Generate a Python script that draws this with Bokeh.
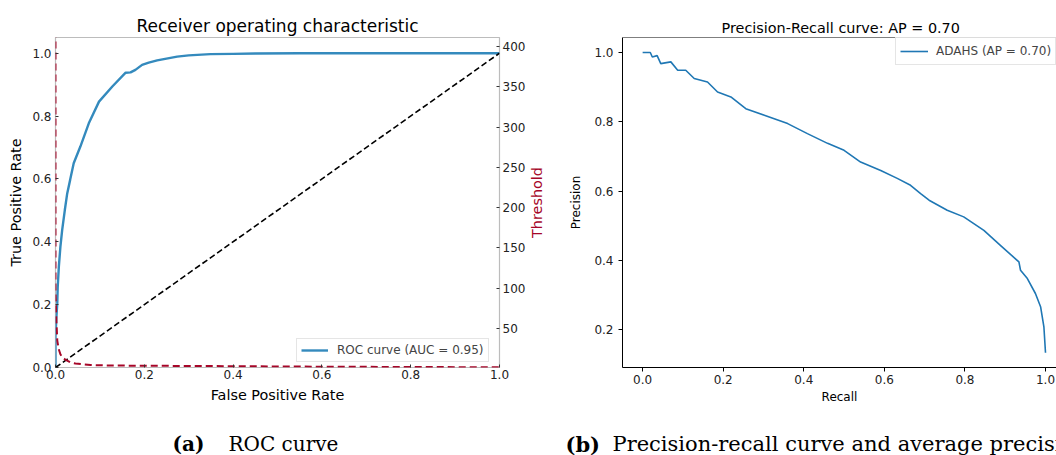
import math
from bokeh.plotting import figure
from bokeh.models import (Range1d, LinearAxis, FixedTicker, PrintfTickFormatter,
                          Legend, LegendItem, Span)
from bokeh.core.properties import value
from bokeh.layouts import row, column
from bokeh.embed import file_html
from bokeh.resources import INLINE

# ---------------- data ----------------
roc_fpr = [0.0, 0.0, 0.002, 0.004, 0.005, 0.0075, 0.011, 0.015, 0.021, 0.0264,
           0.033, 0.041, 0.056, 0.075, 0.098, 0.128, 0.158, 0.169, 0.180, 0.195,
           0.21, 0.229, 0.25, 0.274, 0.30, 0.349, 0.40, 0.45, 0.55, 1.0]
roc_tpr = [0.0, 0.10, 0.16, 0.204, 0.257, 0.320, 0.384, 0.437, 0.501, 0.554,
           0.597, 0.650, 0.703, 0.777, 0.846, 0.894, 0.938, 0.939, 0.947, 0.963,
           0.970, 0.977, 0.983, 0.989, 0.993, 0.997, 0.998, 0.999, 1.0, 1.0]
chance_x = [0.0, 1.0]
chance_y = [0.0, 1.0]
thr_fpr = [0.0, 0.0, 0.002, 0.004, 0.007, 0.011, 0.016, 0.023, 0.034, 0.045,
           0.065, 0.079, 0.12, 0.165, 0.2, 0.4, 0.6, 0.8, 1.0]
thr_val = [420.0, 95.0, 60.0, 35.0, 25.0, 18.0, 14.0, 11.0, 7.8, 6.6,
           5.4, 4.6, 4.1, 3.9, 3.8, 3.2, 2.6, 2.2, 1.9]
pr_recall = [0.0, 0.019, 0.024, 0.036, 0.045, 0.070, 0.087, 0.107, 0.128, 0.161,
             0.186, 0.219, 0.256, 0.302, 0.360, 0.409, 0.459, 0.500, 0.541, 0.591,
             0.632, 0.665, 0.690, 0.711, 0.756, 0.797, 0.847, 0.888, 0.934, 0.938,
             0.955, 0.975, 0.988, 0.996, 1.0]
pr_precision = [1.0, 1.0, 0.987, 0.991, 0.968, 0.973, 0.949, 0.949, 0.925, 0.915,
                0.886, 0.872, 0.838, 0.819, 0.795, 0.766, 0.738, 0.718, 0.684, 0.660,
                0.637, 0.617, 0.593, 0.574, 0.545, 0.526, 0.487, 0.444, 0.396, 0.372,
                0.348, 0.305, 0.266, 0.209, 0.134]
unit_ticks = [0.0, 0.2, 0.4, 0.6, 0.8, 1.0]
thr_ticks = [50, 100, 150, 200, 250, 300, 350, 400]
prec_ticks = [0.2, 0.4, 0.6, 0.8, 1.0]
thr_label = ["Threshold"]

caption_a = ["(a)", "ROC curve"]
caption_b = ["(b)", "Precision-recall curve and average precision"]

FONT = "DejaVu Sans"
SERIF = "DejaVu Serif"
BLUE_BMH = "#348ABD"
RED_BMH = "#A60628"
BLUE_MPL = "#1f77b4"


def style_axis(ax, size, label_size, tick_in, tick_out, color="#222222"):
    ax.major_label_text_font = FONT
    ax.major_label_text_font_size = size
    ax.major_label_text_color = color
    ax.axis_label_text_font = FONT
    ax.axis_label_text_font_size = label_size
    ax.axis_label_text_font_style = "normal"
    ax.axis_label_text_color = "black"
    ax.major_tick_in = tick_in
    ax.major_tick_out = tick_out
    ax.minor_tick_in = 0
    ax.minor_tick_out = 0
    ax.major_tick_line_color = "#333333"


def blank(p):
    p.axis.visible = False
    p.xgrid.visible = False
    p.ygrid.visible = False
    p.outline_line_color = None
    p.background_fill_color = "white"
    p.border_fill_color = "white"
    p.title.text_font_size = "0px"
    p.title.standoff = 0


# ---------------- left panel: ROC ----------------
p1 = figure(width=528, height=425, output_backend="svg",
            toolbar_location=None, x_range=Range1d(0, 1), y_range=Range1d(0, 1.05),
            min_border_left=55, min_border_right=29, min_border_top=37,
            min_border_bottom=58)
p1.xgrid.visible = False
p1.ygrid.visible = False
p1.outline_line_color = "#bcbcbc"
p1.outline_line_width = 1.2
p1.background_fill_color = "white"
p1.border_fill_color = "white"

p1.title.text = "Receiver operating characteristic"
p1.title.align = "center"
p1.title.text_font = FONT
p1.title.text_font_size = "17px"
p1.title.text_font_style = "normal"
p1.title.text_color = "black"
p1.title.standoff = 4

for ax in (p1.xaxis[0], p1.yaxis[0]):
    style_axis(ax, "12px", "14.4px", 3, 0)
    ax.axis_line_color = None
    ax.ticker = FixedTicker(ticks=unit_ticks)
    ax.formatter = PrintfTickFormatter(format="%.1f")
p1.xaxis.axis_label = "False Positive Rate"
p1.yaxis.axis_label = "True Positive Rate"
p1.xaxis.major_label_standoff = 2
p1.xaxis.axis_label_standoff = 5
p1.yaxis.major_label_standoff = 4
p1.yaxis.axis_label_standoff = 5

p1.extra_y_ranges = {"thr": Range1d(1.6, 411.2)}
ax_r = LinearAxis(y_range_name="thr", ticker=FixedTicker(ticks=thr_ticks))
style_axis(ax_r, "12px", "14.4px", 3, 0)
ax_r.axis_line_color = None
ax_r.major_label_standoff = 3
p1.add_layout(ax_r, "right")

r_roc = p1.line(roc_fpr, roc_tpr, line_color=BLUE_BMH, line_width=2.4)
p1.line(chance_x, chance_y, line_color="black", line_dash="6 3", line_width=1.6)
p1.line(thr_fpr, thr_val, y_range_name="thr", line_color=RED_BMH,
        line_dash="7 4", line_width=2)

leg1 = Legend(items=[LegendItem(label="ROC curve (AUC = 0.95)", renderers=[r_roc])],
              location=(241, 5), padding=4, spacing=0, margin=0,
              glyph_width=27, glyph_height=14, label_height=14, label_standoff=9,
              label_text_font=FONT, label_text_font_size="12px",
              border_line_color="#cccccc", border_line_width=1,
              background_fill_alpha=0.85)
p1.add_layout(leg1)

# ---------------- "Threshold" label strip (twin-axis label) ----------------
pthr = figure(width=32, height=425, output_backend="svg", toolbar_location=None,
              x_range=Range1d(0, 1), y_range=Range1d(0, 1.05),
              min_border_left=0, min_border_right=0, min_border_top=37,
              min_border_bottom=58)
blank(pthr)
pthr.text(x=[8.5 / 32], y=[0.525], text=thr_label, angle=math.pi / 2,
          text_font=value(FONT), text_font_size="14.4px", text_align="center",
          text_baseline="middle", text_color=RED_BMH)

# ---------------- right panel: PR ----------------
p2 = figure(width=496, height=425, output_backend="svg",
            toolbar_location=None, x_range=Range1d(-0.05, 1.0273),
            y_range=Range1d(0.0916, 1.0433),
            min_border_left=62, min_border_right=0, min_border_top=37,
            min_border_bottom=58)
p2.xgrid.visible = False
p2.ygrid.visible = False
p2.outline_line_color = None
p2.background_fill_color = "white"
p2.border_fill_color = "white"

p2.title.text = "Precision-Recall curve: AP = 0.70"
p2.title.align = "left"
p2.title.offset = 99
p2.title.text_font = FONT
p2.title.text_font_size = "14.4px"
p2.title.text_font_style = "normal"
p2.title.text_color = "black"
p2.title.standoff = 4

for ax in (p2.xaxis[0], p2.yaxis[0]):
    style_axis(ax, "12px", "12px", 0, 4, color="#222222")
    ax.axis_line_color = "black"
    ax.major_tick_line_color = "black"
    ax.formatter = PrintfTickFormatter(format="%.1f")
p2.xaxis.ticker = FixedTicker(ticks=unit_ticks)
p2.yaxis.ticker = FixedTicker(ticks=prec_ticks)
p2.xaxis.axis_label = "Recall"
p2.yaxis.axis_label = "Precision"
p2.xaxis.major_label_standoff = 3
p2.xaxis.axis_label_standoff = 3
p2.yaxis.major_label_standoff = 5
p2.yaxis.axis_label_standoff = 8
p2.add_layout(Span(location=1.0433, dimension="width", line_color="black",
                   line_width=1))

r_pr = p2.line(pr_recall, pr_precision, line_color=BLUE_MPL, line_width=1.6)
leg2 = Legend(items=[LegendItem(label="ADAHS (AP = 0.70)", renderers=[r_pr])],
              location=(273, 302), padding=4, spacing=0, margin=0,
              glyph_width=28, glyph_height=18, label_height=18, label_standoff=8,
              label_text_font=FONT, label_text_font_size="12px",
              border_line_color="#cccccc", border_line_width=1,
              background_fill_alpha=0.85)
p2.add_layout(leg2)

# ---------------- caption strip ----------------
pcap = figure(width=1056, height=30, output_backend="svg", toolbar_location=None,
              x_range=Range1d(0, 1056), y_range=Range1d(0, 30),
              min_border=0, min_border_left=0, min_border_right=0,
              min_border_top=0, min_border_bottom=0)
blank(pcap)
pcap.text(x=[172], y=[11.5], text=caption_a[:1], text_font=value(SERIF),
          text_font_size="20px", text_font_style="bold",
          text_baseline="middle", text_color="black")
pcap.text(x=[228], y=[11.5], text=caption_a[1:], text_font=value(SERIF),
          text_font_size="20px", text_baseline="middle", text_color="black")
pcap.text(x=[565], y=[11.5], text=caption_b[:1], text_font=value(SERIF),
          text_font_size="21px", text_font_style="bold",
          text_baseline="middle", text_color="black")
pcap.text(x=[612], y=[11.5], text=caption_b[1:], text_font=value(SERIF),
          text_font_size="21px", text_baseline="middle", text_color="black")

layout = column(row(p1, pthr, p2, spacing=0), pcap, spacing=0)
open("out.html", "w").write(file_html(layout, INLINE))
